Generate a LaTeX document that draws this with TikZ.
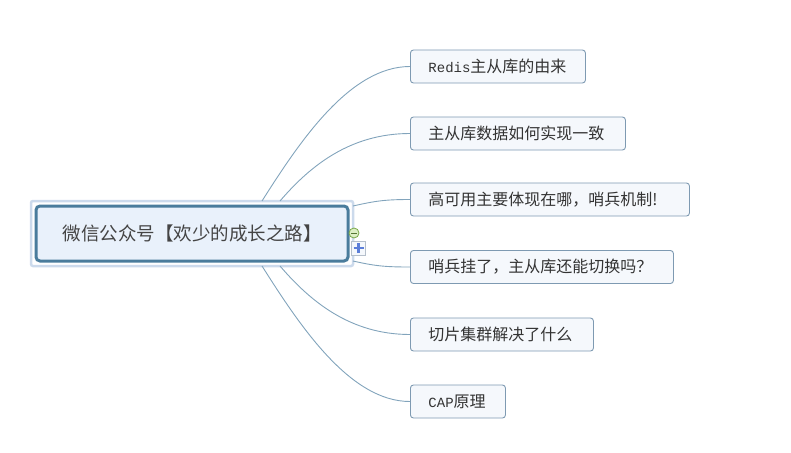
\documentclass[tikz,border=0pt]{standalone}
\usepackage{fontspec}
\setmainfont{Noto Sans CJK SC}
\newfontfamily\latinmono{Liberation Mono}
\definecolor{cborder}{HTML}{4A7C9C}
\definecolor{cfill}{HTML}{E9F1FB}
\definecolor{halo}{HTML}{CCDAEC}
\definecolor{kborder}{HTML}{7E9AB2}
\definecolor{kfill}{HTML}{F5F8FC}
\definecolor{link}{HTML}{82A4BC}
\definecolor{ctext}{HTML}{444444}
\definecolor{ktext}{HTML}{333333}
\definecolor{mgreen}{HTML}{79A84A}
\definecolor{mgfill}{HTML}{DDEFC6}
\definecolor{pblue}{HTML}{5C7ED8}
\begin{document}
\begin{tikzpicture}[x=1pt,y=-1pt,
  centerbox/.style={draw=cborder,line width=3pt,fill=cfill,rounded corners=4pt,
    minimum width=312pt,minimum height=55pt,inner sep=0pt,
    font=\fontsize{18.5}{20}\selectfont,text=ctext},
  halobox/.style={draw=halo,line width=2.5pt,rounded corners=2pt,
    minimum width=322pt,minimum height=65pt,inner sep=0pt},
  topic/.style={draw=kborder,line width=0.9pt,fill=kfill,rounded corners=3pt,
    minimum height=33pt,inner ysep=0pt,inner xsep=18pt,anchor=west,align=left,
    font=\fontsize{16}{18}\selectfont,text=ktext},
  conn/.style={draw=link,line width=0.9pt}]
\useasboundingbox (0,0) rectangle (791,452);
% central topic
\node[halobox] (h) at (192,233.5) {};
\node[centerbox] (c) at (192,233.5) {微信公众号【欢少的成长之路】};
% subtopics
\node[topic,text width=139pt] (b1) at (410,66.5) {{\latinmono\fontsize{14}{16}\selectfont Redis}主从库的由来};
\node[topic,text width=179pt] (b2) at (410,133.5) {主从库数据如何实现一致};
\node[topic,text width=243pt] (b3) at (410,199.5) {高可用主要体现在哪，哨兵机制!};
\node[topic,text width=227pt] (b4) at (410,267) {哨兵挂了，主从库还能切换吗？};
\node[topic,text width=147pt] (b5) at (410,334.5) {切片集群解决了什么};
\node[topic,text width=59pt] (b6) at (410,401.5) {{\latinmono\fontsize{14}{16}\selectfont CAP}原理};
% connector start points
\coordinate (s1) at (262,201);
\coordinate (s2) at (280,201);
\coordinate (s3) at (353,206);
\coordinate (s4) at (353,261);
\coordinate (s5) at (280,266);
\coordinate (s6) at (262,266);
\draw[conn] (s1) .. controls +(38,-60) and +(-60,0) .. (b1.west);
\draw[conn] (s2) .. controls +(30,-35) and +(-60,0) .. (b2.west);
\draw[conn] (s3) .. controls +(22,-5) and +(-25,0) .. (b3.west);
\draw[conn] (s4) .. controls +(22,5) and +(-25,0) .. (b4.west);
\draw[conn] (s5) .. controls +(30,35) and +(-60,0) .. (b5.west);
\draw[conn] (s6) .. controls +(38,60) and +(-60,0) .. (b6.west);
% collapse / expand icons
\node[circle,draw=mgreen,fill=mgfill,line width=0.8pt,minimum size=10pt,inner sep=0pt] (minus) at (354,233) {};
\draw[mgreen!70!black,line width=1pt] ([xshift=-3pt]minus.center) -- ([xshift=3pt]minus.center);
\node[draw=halo!70!gray,fill=kfill,line width=0.6pt,minimum size=14pt,inner sep=0pt] (plus) at (358.5,248) {};
\draw[pblue,line width=2.2pt] ([xshift=-5pt]plus.center) -- ([xshift=5pt]plus.center);
\draw[pblue,line width=2.2pt] ([yshift=-5pt]plus.center) -- ([yshift=5pt]plus.center);
\end{tikzpicture}
\end{document}
